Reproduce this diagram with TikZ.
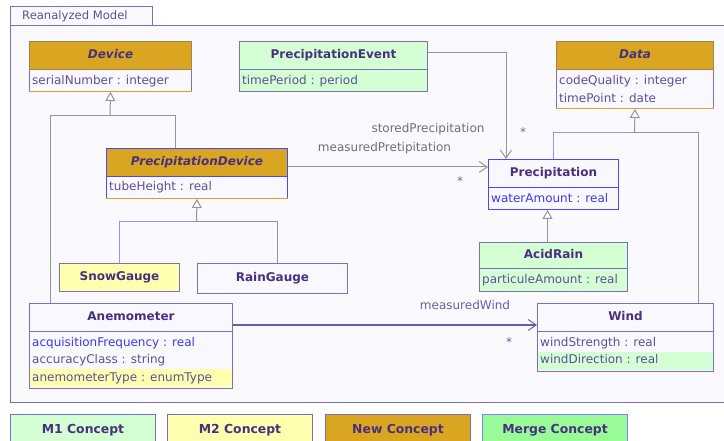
\documentclass[tikz,border=0pt]{standalone}
\usepackage{fontspec}
\setmainfont{DejaVu Sans}
\usetikzlibrary{arrows.meta,fit}
\definecolor{namecol}{HTML}{48307F}
\definecolor{attrcol}{HTML}{5E4E9A}
\definecolor{attrblue}{HTML}{3A3AE8}
\definecolor{bordcol}{HTML}{7E70B6}
\definecolor{bluebd}{HTML}{4A4AF5}
\definecolor{goldfill}{HTML}{DAA520}
\definecolor{goldbd}{HTML}{A3844F}
\definecolor{goldline}{HTML}{E0A030}
\definecolor{mone}{HTML}{D4FFD4}
\definecolor{mtwo}{HTML}{FFFFB0}
\definecolor{mergecol}{HTML}{98FB98}
\definecolor{pkgbg}{HTML}{FAFAFE}
\definecolor{classbg}{HTML}{F8F8FE}
\definecolor{lineg}{HTML}{959595}
\definecolor{lblgrey}{HTML}{707070}
\definecolor{lblpurp}{HTML}{6B5BAE}
\newcommand\umlname{\fontsize{12}{14}\selectfont\bfseries}
\newcommand\umlattr{\fontsize{12}{14}\selectfont}
\begin{document}
\begin{tikzpicture}[x=1pt,y=-1pt,
  hdr/.style={draw=bordcol, fill=classbg, line width=1pt, anchor=north west, inner sep=0pt,
    font=\umlname, text=namecol, text height=9pt, text depth=2.5pt, minimum height=28},
  cmp/.style={draw=bordcol, fill=classbg, line width=1pt, anchor=north west, inner sep=0pt},
  attr/.style={anchor=west, inner sep=0pt, font=\umlattr, text=attrcol, text height=9pt, text depth=2.5pt},
  rowbg/.style={draw=none, anchor=north west, inner sep=0pt},
  lbl/.style={inner sep=0pt, font=\umlattr, text=lblgrey, text height=9pt, text depth=2.5pt},
  gline/.style={draw=lineg, line width=1pt},
  bline/.style={draw=bluebd!60, line width=1pt},
  gen/.style={draw=lineg, line width=1pt, -{Triangle[open, length=9pt, width=10pt, fill=white]}},
  assoc/.style={line width=1pt, -{Straight Barb[length=8pt, width=11pt]}},
  legend/.style={draw=bordcol, line width=1pt, anchor=north west, inner sep=0pt,
    minimum width=145, minimum height=32, font=\fontsize{12.4}{14}\selectfont\bfseries, text=namecol}
]
\useasboundingbox (0,0) rectangle (724,441);
\fill[white] (0,0) rectangle (724,441);

% package
\node[draw=bordcol, fill=pkgbg, line width=1pt, anchor=north west, minimum width=720, minimum height=377, inner sep=0pt] (pkg) at (10,25) {};
\node[draw=bordcol, fill=pkgbg, line width=1pt, anchor=north west, minimum width=142, minimum height=19, inner sep=0pt] (tab) at (10,6) {};
\node[anchor=west, inner sep=0pt, font=\fontsize{11.6}{13}\selectfont, text=attrcol] (tabtxt) at (22,16) {Reanalyzed Model};

% Device
\node[cmp, minimum width=162, minimum height=22] (devA) at (29,69) {};
\draw[goldline, line width=1pt] (devA.south west) -- (devA.south east);
\node[hdr, fill=goldfill, draw=goldbd, minimum width=162] (devH) at (29,41) {\textit{Device}};
\node[attr] (devA1) at (32,81) {serialNumber : integer};

% PrecipitationEvent
\node[cmp, fill=mone, minimum width=188, minimum height=22] (peA) at (239,69) {};
\node[hdr, fill=mone, minimum width=188] (peH) at (239,41) {PrecipitationEvent};
\node[attr] (peA1) at (242,81) {timePeriod : period};

% Data
\node[cmp, minimum width=157, minimum height=39] (dataA) at (556,69) {};
\draw[goldline, line width=1pt] (dataA.south west) -- (dataA.south east);
\node[hdr, fill=goldfill, draw=goldbd, minimum width=157] (dataH) at (556,41) {\textit{Data}};
\node[attr] (dataA1) at (559,81) {codeQuality : integer};
\node[attr] (dataA2) at (559,99) {timePoint : date};

% PrecipitationDevice
\node[cmp, draw=bluebd, minimum width=181, minimum height=22] (pdA) at (106,176) {};
\draw[goldline, line width=1pt] (pdA.south west) -- (pdA.south east);
\node[hdr, fill=goldfill, draw=bluebd, minimum width=181] (pdH) at (106,148) {\textit{PrecipitationDevice}};
\node[attr] (pdA1) at (109,187) {tubeHeight : real};

% Precipitation
\node[cmp, draw=bluebd, minimum width=130, minimum height=22] (precA) at (488,187) {};
\node[hdr, draw=bluebd, minimum width=130] (precH) at (488,159) {Precipitation};
\node[attr, text=attrblue] (precA1) at (491,199) {waterAmount : real};

% AcidRain
\node[cmp, fill=mone, minimum width=148, minimum height=23] (acidA) at (479,268) {};
\node[hdr, fill=mone, minimum width=148, minimum height=26] (acidH) at (479,242) {AcidRain};
\node[attr] (acidA1) at (482,280) {particuleAmount : real};

% SnowGauge, RainGauge
\node[hdr, fill=mtwo, minimum width=120, minimum height=28] (snow) at (59,263) {SnowGauge};
\node[hdr, minimum width=150, minimum height=30] (rain) at (197,263) {RainGauge};

% Anemometer
\node[cmp, minimum width=203, minimum height=57] (anemA) at (29,331) {};
\node[rowbg, fill=mtwo, minimum width=202, minimum height=18] (anemR3) at (29.5,369) {};
\node[hdr, minimum width=203] (anemH) at (29,303) {Anemometer};
\node[attr, text=attrblue] (anemA1) at (32,343) {acquisitionFrequency : real};
\node[attr] (anemA2) at (32,360.5) {accuracyClass : string};
\node[attr] (anemA3) at (32,378) {anemometerType : enumType};

% Wind
\node[cmp, minimum width=176, minimum height=40] (windA) at (537,331) {};
\node[rowbg, fill=mone, minimum width=175, minimum height=18] (windR2) at (537.5,352) {};
\node[hdr, minimum width=176] (windH) at (537,303) {Wind};
\node[attr] (windA1) at (540,343) {windStrength : real};
\node[attr] (windA2) at (540,360.5) {windDirection : real};

% generalization trees
\coordinate (jDev) at (110,116);
\coordinate (jPD) at (196.5,222);
\coordinate (jData) at (634.5,133);
\draw[gline] ([xshift=21]anemH.north west) |- (jDev);
\draw[gline] ([xshift=69]pdH.north west) |- (jDev);
\draw[gen] (jDev) -- (devA.south);
\draw[gline] ([xshift=80]rain.north west) |- (jPD);
\draw[bline] (snow.north) |- (jPD);
\draw[gen] (jPD) -- (pdA.south);
\draw[gline] ([xshift=161]windH.north west) |- (jData);
\draw[bline] (precH.north) |- (jData);
\draw[gen] (jData) -- (dataA.south);
\draw[gen] ([xshift=-6]acidH.north) -- ([xshift=-6]precA.south);

% associations
\coordinate (yPD) at (0,167);
\coordinate (yAW) at (0,325);
\draw[assoc, draw=lineg] ([yshift=3]peH.east) -| ([xshift=18]precH.north west);
\draw[assoc, draw=lineg] (pdH.east |- yPD) -- (precH.west |- yPD);
\draw[assoc, draw=lblpurp] (anemH.east |- yAW) -- (windH.west |- yAW);

\node[lbl] (lStored) at (428,129) {storedPrecipitation};
\node[lbl, anchor=base] (lStar1) at (523,137) {*};
\node[lbl] (lMeasP) at (384.5,148) {measuredPretipitation};
\node[lbl, anchor=base] (lStar2) at (460,186) {*};
\node[lbl, text=lblpurp] (lMW) at (465,306) {measuredWind};
\node[lbl, text=lblpurp, anchor=base] (lStar3) at (509,346) {*};

% legend
\node[legend, fill=mone] (legM1) at (10,414) {M1 Concept};
\node[legend, fill=mtwo] (legM2) at (167,414) {M2 Concept};
\node[legend, fill=goldfill] (legNew) at (325,414) {New Concept};
\node[legend, fill=mergecol, draw=bluebd!70] (legMerge) at (482,414) {Merge Concept};
\end{tikzpicture}
\end{document}
